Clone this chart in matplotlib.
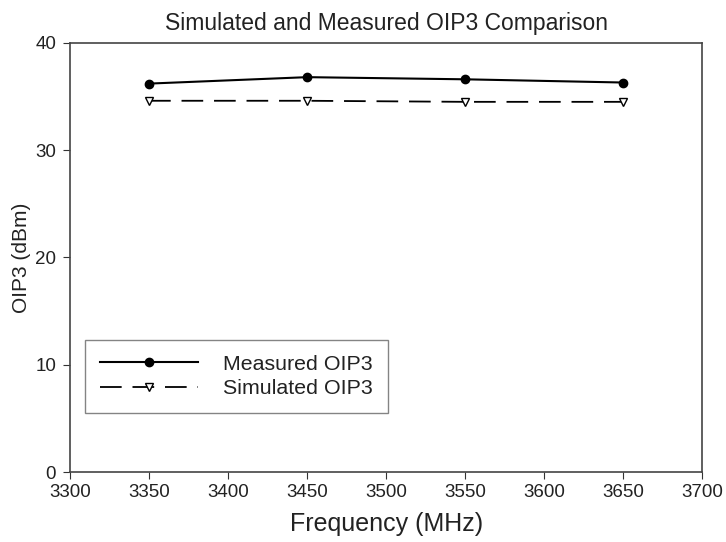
import matplotlib
matplotlib.use("Agg")
import matplotlib.pyplot as plt

freq = [3350, 3450, 3550, 3650]
measured = [36.2, 36.8, 36.6, 36.3]
simulated = [34.6, 34.6, 34.5, 34.5]

plt.rcParams['font.family'] = ['Liberation Sans', 'DejaVu Sans']

fig = plt.figure(figsize=(7.26, 5.42), dpi=100)
ax = fig.add_axes([0.0964, 0.129, 0.871, 0.792])

ax.plot(freq, measured, color='black', lw=1.5, marker='o', ms=6,
        label='Measured OIP3')
ax.plot(freq, simulated, color='black', lw=1.3, dashes=(12, 6), marker='v',
        ms=6, mfc='white', mec='black', label='Simulated OIP3')

ax.set_xlim(3300, 3700)
ax.set_ylim(0, 40)
ax.set_xticks(range(3300, 3701, 50))
ax.set_yticks(range(0, 41, 10))
ax.tick_params(direction='out', length=5, labelsize=13.5, colors='#333333',
               labelcolor='#222222', top=False, right=False)
ax.tick_params(axis='y', pad=5)
for s in ax.spines.values():
    s.set_color('#444444')
    s.set_linewidth(1.2)

ax.set_title('Simulated and Measured OIP3 Comparison', fontsize=16.5, pad=9,
             color='#222222')
ax.set_xlabel('Frequency (MHz)', fontsize=18, labelpad=8, color='#222222')
ax.set_ylabel('OIP3 (dBm)', fontsize=15, labelpad=3, color='#222222')

leg = ax.legend(loc='upper left', bbox_to_anchor=(85 / 726, 1 - 340 / 542),
                bbox_transform=fig.transFigure, borderaxespad=0,
                fontsize=15.4, fancybox=False, handlelength=4.6,
                handletextpad=1.15, borderpad=0.7, labelspacing=0.25)
leg.get_frame().set_edgecolor('#666666')
leg.get_frame().set_linewidth(1.0)
for t in leg.get_texts():
    t.set_color('#222222')

fig.savefig('out.png', dpi=100)
